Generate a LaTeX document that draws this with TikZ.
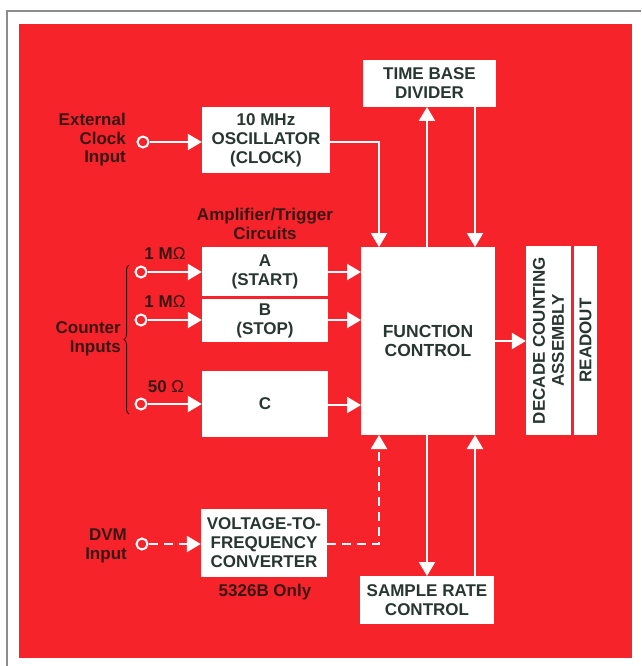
\documentclass[tikz,border=0pt]{standalone}
\usepackage{fontspec}
\setmainfont{Liberation Sans}
\usetikzlibrary{arrows.meta,decorations.pathreplacing}
\definecolor{bgred}{RGB}{246,36,42}
\definecolor{boxtxt}{RGB}{40,54,50}
\definecolor{lbltxt}{RGB}{58,22,22}
\definecolor{framegray}{RGB}{140,140,140}
\tikzset{
  blk/.style={fill=white, draw=none, text=boxtxt, align=center, inner sep=0pt,
    font=\bfseries\fontsize{17}{19}\selectfont},
  lbl/.style={text=lbltxt, font=\bfseries\fontsize{17}{18.5}\selectfont, inner sep=0pt},
  conn/.style={draw=white, line width=2pt, -{Triangle[width=16pt,length=14pt]}},
  dconn/.style={conn, dash pattern=on 9pt off 6pt},
  term/.style={circle, draw=white, line width=2pt, fill=bgred, minimum size=11pt, inner sep=0pt},
}
\begin{document}
\begin{tikzpicture}[x=1pt,y=-1pt]
\useasboundingbox (0,0) rectangle (641,666);
\fill[white] (0,0) rectangle (641,666);
\draw[framegray, line width=1.2pt] (7,666) -- (7,11) -- (641,11);
\fill[bgred] (19,24) rectangle (632,658);

% blocks
\node[blk, minimum width=133pt, minimum height=47pt] (tbd) at (429.5,83.5) {TIME BASE\\DIVIDER};
\node[blk, minimum width=128pt, minimum height=66pt] (osc) at (266,140) {10 MHz\\OSCILLATOR\\(CLOCK)};
\node[blk, minimum width=126pt, minimum height=49pt] (ampa) at (265,271.5) {A\\(START)};
\node[blk, minimum width=126pt, minimum height=43pt] (ampb) at (265,320.5) {B\\(STOP)};
\node[blk, minimum width=126pt, minimum height=66pt] (ampc) at (265,404) {C};
\node[blk, minimum width=134pt, minimum height=188pt, font=\bfseries\fontsize{17.5}{19}\selectfont] (fc) at (428,341) {FUNCTION\\CONTROL};
\node[blk, minimum width=189pt, minimum height=45pt, rotate=90] (dca) at (548.5,340.5) {DECADE COUNTING\\ASSEMBLY};
\node[blk, minimum width=189pt, minimum height=23pt, rotate=90] (ro) at (585.5,340.5) {READOUT};
\node[blk, minimum width=126pt, minimum height=68pt] (vtf) at (264,543) {VOLTAGE-TO-\\FREQUENCY\\CONVERTER};
\node[blk, minimum width=134pt, minimum height=48pt] (src) at (427,600) {SAMPLE RATE\\CONTROL};

% labels
\node[lbl, align=right, anchor=east] (extlbl) at (126,140) {External\\Clock\\Input};
\node[lbl, align=center] (amplbl) at (265,224) {Amplifier/Trigger\\Circuits};
\node[lbl] (ra) at (165,254) {1 M{\mdseries Ω}};
\node[lbl] (rb) at (165,302) {1 M{\mdseries Ω}};
\node[lbl] (rc) at (166,387) {50 {\mdseries Ω}};
\node[lbl, align=right, anchor=east] (cntlbl) at (121,339) {Counter\\Inputs};
\node[lbl, align=right, anchor=east] (dvmlbl) at (127,546) {DVM\\Input};
\node[lbl] (only) at (265,592) {5326B Only};

% terminals
\node[term] (text) at (143,142) {};
\node[term] (ta) at (141,272) {};
\node[term] (tb) at (141,320) {};
\node[term] (tc) at (141,404) {};
\node[term] (tdvm) at (142,544) {};

% coordinates on function control
\coordinate (fcn1) at (379,247);
\coordinate (fcn2) at (427,247);
\coordinate (fcn3) at (475,247);
\coordinate (tbd2) at (427,107);
\coordinate (tbd3) at (475,107);
\coordinate (fcs1) at (379,435);
\coordinate (fcs2) at (427,435);
\coordinate (fcs3) at (475,435);
\coordinate (src2) at (427,576);
\coordinate (src3) at (475,576);
\coordinate (fca) at (361,272);
\coordinate (fcb) at (361,320);
\coordinate (fcc) at (361,405);

% connectors
\draw[conn] (text.east) -- (osc.west |- text.east);
\draw[conn] (osc.east |- text.east) -| (fcn1);
\draw[conn] (fcn2) -- (tbd2);
\draw[conn] (tbd3) -- (fcn3);
\draw[conn] (ta.east) -- (ampa.west |- ta.east);
\draw[conn] (tb.east) -- (ampb.west |- tb.east);
\draw[conn] (tc.east) -- (ampc.west |- tc.east);
\draw[conn] (ampa.east |- fca) -- (fca);
\draw[conn] (ampb.east |- fcb) -- (fcb);
\draw[conn] (ampc.east |- fcc) -- (fcc);
\draw[conn] (fc.east) -- (dca.north |- fc.east);
\draw[conn] (fcs2) -- (src2);
\draw[conn] (src3) -- (fcs3);
\draw[dconn] (tdvm.east) -- (vtf.west |- tdvm.east);
\draw[dconn] (vtf.east |- tdvm.east) -| (fcs1);

% brace
\draw[lbltxt, line width=1pt, decorate, decoration={brace, amplitude=5pt}] (129,414) -- (129,265);
\end{tikzpicture}
\end{document}
